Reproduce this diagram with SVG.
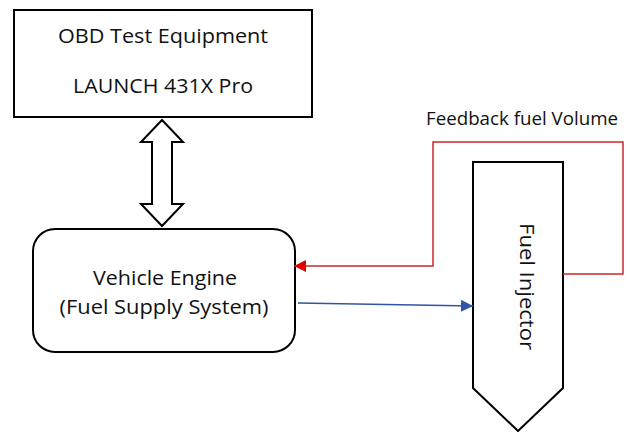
<svg xmlns="http://www.w3.org/2000/svg" width="630" height="432" viewBox="0 0 630 432">
<defs>
<style>
.box{fill:#fff;stroke:#000;stroke-width:2}
.t{font-family:"Open Sans","Liberation Sans",sans-serif;font-size:20px;fill:#111;text-anchor:middle}
.red{fill:none;stroke:#d02828;stroke-width:1.5}
.blue{fill:none;stroke:#2f55a4;stroke-width:1.5}
</style>
<marker id="ar" markerWidth="12" markerHeight="12" refX="12" refY="6" orient="auto" markerUnits="userSpaceOnUse"><path d="M0,0 L12,6 L0,12 Z" fill="#e00000"/></marker>
<marker id="ab" markerWidth="12" markerHeight="12" refX="12" refY="6" orient="auto" markerUnits="userSpaceOnUse"><path d="M0,0 L12,6 L0,12 Z" fill="#2f55a4"/></marker>
</defs>
<rect width="630" height="432" fill="#fff"/>
<g id="obd">
<rect class="box" x="14" y="10" width="298" height="107"/>
<text class="t" x="163" y="43" textLength="210" lengthAdjust="spacingAndGlyphs">OBD Test Equipment</text>
<text class="t" x="163" y="93" textLength="180" lengthAdjust="spacingAndGlyphs">LAUNCH 431X Pro</text>
</g>
<g id="engine">
<rect class="box" x="33" y="229" width="262" height="123" rx="22" ry="22"/>
<text class="t" x="165" y="285" textLength="144" lengthAdjust="spacingAndGlyphs">Vehicle Engine</text>
<text class="t" x="164" y="314" textLength="209" lengthAdjust="spacingAndGlyphs">(Fuel Supply System)</text>
</g>
<g id="injector">
<path class="box" d="M473,162 L563,162 L563,388 L518,431 L473,388 Z"/>
<text class="t" transform="translate(520,286.5) rotate(90)" textLength="127" lengthAdjust="spacingAndGlyphs">Fuel Injector</text>
</g>
<g id="connectors">
<path class="box" d="M162,120 L183,142 L172,142 L172,204 L183,204 L162,226 L141,204 L152,204 L152,142 L141,142 Z"/>
<path class="red" d="M563,274 L623,274 L623,142 L433,142 L433,266 L294,266" marker-end="url(#ar)"/>
<path class="blue" d="M298,303 L473,306" marker-end="url(#ab)"/>
</g>
<text class="t" x="522" y="125" style="font-size:19px" textLength="192" lengthAdjust="spacingAndGlyphs">Feedback fuel Volume</text>
</svg>
